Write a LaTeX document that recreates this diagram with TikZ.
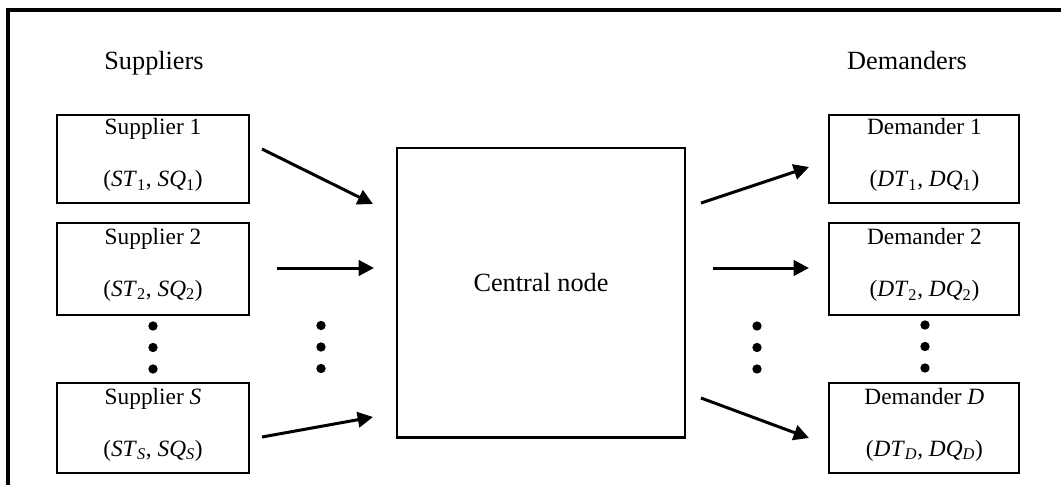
\documentclass[tikz,border=0pt]{standalone}
\usepackage{fontspec}
\setmainfont{Liberation Serif}
\usetikzlibrary{arrows.meta}
\begin{document}
\begin{tikzpicture}[x=0.75pt,y=-0.75pt,
  box/.style={draw, line width=1.5pt, minimum width=144pt, minimum height=67.5pt,
    inner sep=0pt, align=center, font=\fontsize{17.5}{39}\selectfont, text depth=9.5pt},
  dbox/.style={box, minimum width=142.5pt},
  hub/.style={draw, line width=2pt, minimum width=216pt, minimum height=217pt,
    inner sep=0pt, font=\fontsize{19.7}{24}\selectfont, text depth=15.75pt},
  title/.style={font=\fontsize{19.7}{24}\selectfont, anchor=base, inner sep=0pt},
  flow/.style={line width=2.25pt, -{Triangle[length=11.5pt,width=11.5pt]}},
  frame/.style={line width=2.6pt},
  dot/.style={circle, fill, inner sep=0pt, minimum size=7pt}]
\useasboundingbox (0,0) rectangle (1061,485);

% frame (cut off at right and bottom)
\coordinate (fb) at (8,487);
\coordinate (ftl) at (8,10);
\coordinate (fr) at (1063,10);
\draw[frame] (fb) -- (ftl) -- (fr);

% titles
\node[title] (tsup) at (154,70) {Suppliers};
\node[title] (tdem) at (907,70) {Demanders};

% supplier boxes
\node[box, minimum height=66pt] (s1) at (153,159) {Supplier 1\\(\textit{ST}\textsubscript{1}, \textit{SQ}\textsubscript{1})};
\node[box, minimum height=69pt] (s2) at (153,268.5) {Supplier 2\\(\textit{ST}\textsubscript{2}, \textit{SQ}\textsubscript{2})};
\node[box] (sS) at (153,428.3) {Supplier \textit{S}\\(\textit{ST}\textsubscript{\textit{S}}, \textit{SQ}\textsubscript{\textit{S}})};

% demander boxes
\node[dbox, minimum height=66pt] (d1) at (924.4,159) {Demander 1\\(\textit{DT}\textsubscript{1}, \textit{DQ}\textsubscript{1})};
\node[dbox, minimum height=69pt] (d2) at (924.4,269) {Demander 2\\(\textit{DT}\textsubscript{2}, \textit{DQ}\textsubscript{2})};
\node[dbox] (dD) at (924.4,428.3) {Demander \textit{D}\\(\textit{DT}\textsubscript{\textit{D}}, \textit{DQ}\textsubscript{\textit{D}})};

% central node
\node[hub] (c) at (541,292.5) {Central node};

% arrow end points
\coordinate (a1s) at (262,149);  \coordinate (a1e) at (373,204);
\coordinate (a2s) at (277,268);  \coordinate (a2e) at (374,268);
\coordinate (a3s) at (262,437);  \coordinate (a3e) at (373,417);
\coordinate (b1s) at (701,203);  \coordinate (b1e) at (809,167);
\coordinate (b2s) at (713,268);  \coordinate (b2e) at (809,268);
\coordinate (b3s) at (701,398);  \coordinate (b3e) at (809,438);

\draw[flow] (a1s) -- (a1e);
\draw[flow] (a2s) -- (a2e);
\draw[flow] (a3s) -- (a3e);
\draw[flow] (b1s) -- (b1e);
\draw[flow] (b2s) -- (b2e);
\draw[flow] (b3s) -- (b3e);

% ellipsis dots
\foreach \y [count=\i] in {326,347.5,369} {
  \node[dot] (ls\i) at (153,\y) {};
  \node[dot] (ms\i) at (321,\y-0.5) {};
  \node[dot] (md\i) at (757,\y) {};
  \node[dot] (rd\i) at (925,\y-1) {};
}
\end{tikzpicture}
\end{document}
